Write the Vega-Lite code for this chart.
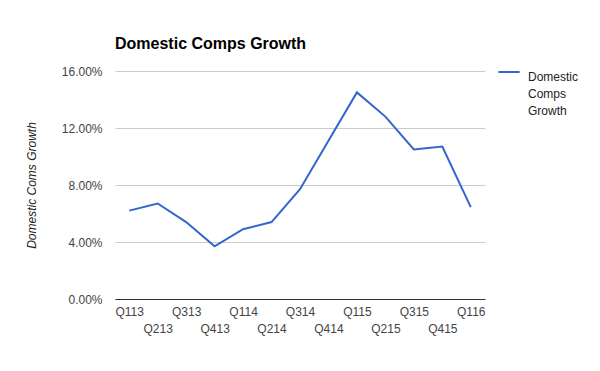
{
  "$schema": "https://vega.github.io/schema/vega-lite/v6.json",
  "width": 370,
  "height": 228,
  "autosize": "none",
  "padding": {"left": 115, "top": 71, "right": 115, "bottom": 72},
  "background": "white",
  "title": {
    "text": "Domestic Comps Growth",
    "anchor": "start",
    "frame": "group",
    "font": "Liberation Sans",
    "fontSize": 16,
    "fontWeight": "bold",
    "color": "#000000",
    "offset": 8,
    "limit": 0
  },
  "data": {
    "values": [
      {"quarter": "Q113", "value": 0.062, "series": "Domestic Comps Growth"},
      {"quarter": "Q213", "value": 0.067, "series": "Domestic Comps Growth"},
      {"quarter": "Q313", "value": 0.054, "series": "Domestic Comps Growth"},
      {"quarter": "Q413", "value": 0.037, "series": "Domestic Comps Growth"},
      {"quarter": "Q114", "value": 0.049, "series": "Domestic Comps Growth"},
      {"quarter": "Q214", "value": 0.054, "series": "Domestic Comps Growth"},
      {"quarter": "Q314", "value": 0.077, "series": "Domestic Comps Growth"},
      {"quarter": "Q414", "value": 0.111, "series": "Domestic Comps Growth"},
      {"quarter": "Q115", "value": 0.145, "series": "Domestic Comps Growth"},
      {"quarter": "Q215", "value": 0.128, "series": "Domestic Comps Growth"},
      {"quarter": "Q315", "value": 0.105, "series": "Domestic Comps Growth"},
      {"quarter": "Q415", "value": 0.107, "series": "Domestic Comps Growth"},
      {"quarter": "Q116", "value": 0.0645, "series": "Domestic Comps Growth"}
    ]
  },
  "mark": {"type": "line", "strokeWidth": 2},
  "encoding": {
    "x": {
      "field": "quarter",
      "type": "ordinal",
      "sort": null,
      "scale": {"type": "point", "padding": 0.5},
      "axis": {
        "title": null,
        "labelAngle": 0,
        "labelOverlap": false,
        "ticks": false,
        "grid": false,
        "domain": true,
        "domainColor": "#333333",
        "domainWidth": 1,
        "labelFont": "Liberation Sans",
        "labelFontSize": 12,
        "labelColor": "#444444",
        "labelPadding": {"expr": "indexof(['Q213','Q413','Q214','Q414','Q215','Q415'], datum.value) >= 0 ? 24 : 7"}
      }
    },
    "y": {
      "field": "value",
      "type": "quantitative",
      "scale": {"domain": [0, 0.16], "nice": false},
      "axis": {
        "title": "Domestic Coms Growth",
        "titleFont": "Liberation Sans",
        "titleFontSize": 12,
        "titleFontStyle": "italic",
        "titleFontWeight": "normal",
        "titleColor": "#222222",
        "titlePadding": 23,
        "values": [0, 0.04, 0.08, 0.12, 0.16],
        "format": ".2%",
        "labelFont": "Liberation Sans",
        "labelFontSize": 12,
        "labelColor": "#444444",
        "labelPadding": 13,
        "ticks": false,
        "domain": false,
        "gridColor": "#cccccc",
        "gridOpacity": 1
      }
    },
    "color": {
      "field": "series",
      "type": "nominal",
      "scale": {"range": ["#3366cc"]},
      "legend": {
        "title": null,
        "orient": "none",
        "legendX": 382,
        "legendY": -11,
        "symbolType": "stroke",
        "symbolStrokeWidth": 2,
        "symbolSize": 450,
        "labelFont": "Liberation Sans",
        "labelFontSize": 12,
        "labelColor": "#222222",
        "labelExpr": "['Domestic', 'Comps', 'Growth']",
        "labelBaseline": "top",
        "labelOffset": 7,
        "labelLimit": 0
      }
    }
  },
  "config": {
    "view": {"stroke": null},
    "style": {"guide-label": {"lineHeight": 17}}
  }
}
